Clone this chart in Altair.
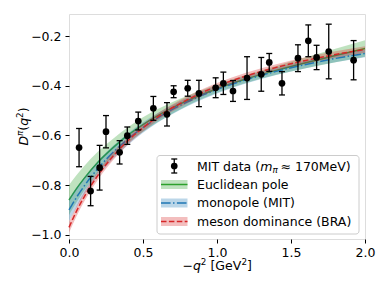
import altair as alt
import pandas as pd

FONT = "DejaVu Sans"

# MIT lattice data points
q2 = [0.068, 0.146, 0.207, 0.250, 0.342, 0.394, 0.468, 0.570, 0.662, 0.707, 0.802, 0.878,
      0.991, 1.043, 1.108, 1.203, 1.299, 1.353, 1.439, 1.547, 1.617, 1.673, 1.755, 1.923]
D = [-0.649, -0.824, -0.730, -0.585, -0.668, -0.601, -0.542, -0.491, -0.515, -0.424, -0.410, -0.431,
     -0.408, -0.390, -0.421, -0.369, -0.354, -0.306, -0.390, -0.289, -0.219, -0.286, -0.262, -0.297]
err = [0.077, 0.059, 0.090, 0.065, 0.047, 0.035, 0.036, 0.048, 0.047, 0.024, 0.032, 0.053,
       0.040, 0.045, 0.042, 0.086, 0.068, 0.036, 0.047, 0.054, 0.064, 0.049, 0.110, 0.079]

# model curves
xg = [0.0, 0.05, 0.1, 0.2, 0.3, 0.4, 0.5, 0.6, 0.8, 1.0, 1.2, 1.4, 1.6, 1.8, 2.0]
green_c = [-0.860, -0.815, -0.775, -0.705, -0.648, -0.598, -0.556, -0.520, -0.460, -0.412, -0.372, -0.338, -0.307, -0.278, -0.250]
green_w = [0.060, 0.055, 0.050, 0.042, 0.036, 0.032, 0.029, 0.026, 0.020, 0.016, 0.016, 0.018, 0.022, 0.027, 0.033]
blue_c = [-0.900, -0.850, -0.806, -0.730, -0.667, -0.614, -0.568, -0.529, -0.465, -0.415, -0.375, -0.342, -0.314, -0.290, -0.270]
blue_w = [0.045, 0.040, 0.035, 0.030, 0.026, 0.023, 0.021, 0.019, 0.017, 0.016, 0.015, 0.015, 0.015, 0.015, 0.015]
red_c = [-0.970, -0.906, -0.850, -0.757, -0.682, -0.620, -0.569, -0.525, -0.456, -0.402, -0.360, -0.326, -0.298, -0.274, -0.254]
red_w = [0.022, 0.020, 0.019, 0.017, 0.016, 0.015, 0.015, 0.014, 0.014, 0.013, 0.013, 0.013, 0.013, 0.013, 0.013]

GREEN, BLUE, RED = "#2ca02c", "#1f77b4", "#d62728"

pts = pd.DataFrame({"x": q2, "y": D, "e": err})
pts["lo"] = pts["y"] - pts["e"]
pts["hi"] = pts["y"] + pts["e"]

xs = alt.Scale(domain=[0, 2], nice=False, zero=False, padding=0)
ys = alt.Scale(domain=[-1.017, -0.111], nice=False, zero=False, padding=0)
common_ax = dict(format=".1f", title=None, grid=False, domain=False, tickSize=4,
                 labelFontSize=12.5, labelFont=FONT, labelColor="black", tickColor="black",
                 labelFlush=False, labelOverlap=False)
xax = alt.Axis(values=[0, 0.5, 1.0, 1.5, 2.0], labelPadding=3, **common_ax)
yax = alt.Axis(values=[-1.0, -0.8, -0.6, -0.4, -0.2], labelPadding=4, **common_ax)
X = lambda f: alt.X(f, type="quantitative", scale=xs, axis=xax)
Y = lambda f: alt.Y(f, type="quantitative", scale=ys, axis=yax)


def model(c, w, color, dash):
    df = pd.DataFrame({"x": xg, "c": c, "w": w})
    df["lo"] = df["c"] - df["w"]
    df["hi"] = df["c"] + df["w"]
    band = alt.Chart(df).mark_area(color=color, opacity=0.3, interpolate="monotone").encode(
        x=X("x"), y=Y("lo"), y2="hi:Q")
    lk = dict(color=color, strokeWidth=1.5, interpolate="monotone")
    if dash:
        lk["strokeDash"] = dash
    line = alt.Chart(df).mark_line(**lk).encode(x=X("x"), y=Y("c"))
    return band + line


one = pd.DataFrame({"k": [0]})
TS = 12.5
SS = 8.75


def txt(s, x, y, size=TS, style=None, align="left", baseline="middle", angle=None):
    kw = dict(text=s, align=align, baseline=baseline, fontSize=size, font=FONT, color="black")
    if style:
        kw["fontStyle"] = style
    if angle is not None:
        kw["angle"] = angle
    return alt.Chart(one).mark_text(**kw).encode(x=alt.value(x), y=alt.value(y))


def rule(x1, x2, y1, y2, color, width=1.5, dash=None):
    kw = dict(color=color, strokeWidth=width)
    if dash:
        kw["strokeDash"] = dash
    return alt.Chart(one).mark_rule(**kw).encode(
        x=alt.value(x1), x2=alt.value(x2), y=alt.value(y1), y2=alt.value(y2))


def patch(x1, x2, y1, y2, color):
    return alt.Chart(one).mark_rect(color=color, opacity=0.3).encode(
        x=alt.value(x1), x2=alt.value(x2), y=alt.value(y1), y2=alt.value(y2))


layers = [model(green_c, green_w, GREEN, None),
          model(blue_c, blue_w, BLUE, [9.6, 2.4, 1.5, 2.4]),
          model(red_c, red_w, RED, [5.5, 2.4])]

bars = alt.Chart(pts).mark_rule(color="black", strokeWidth=1.3).encode(x=X("x"), y=Y("lo"), y2="hi:Q")
capdf = pd.concat([pts.assign(yy=pts["lo"]), pts.assign(yy=pts["hi"])])
caps = alt.Chart(capdf).mark_point(shape="M -1 0 L 1 0", size=36, strokeWidth=1.3, color="black",
                                   opacity=1, filled=False).encode(x=X("x"), y=Y("yy"))
dots = alt.Chart(pts).mark_circle(size=45, color="black", opacity=1).encode(x=X("x"), y=Y("y"))
layers += [bars, caps, dots]

# legend (drawn in plot pixel coordinates)
box = alt.Chart(one).mark_rect(fill="white", fillOpacity=0.8, stroke="#cccccc", strokeWidth=1,
                               cornerRadius=3).encode(
    x=alt.value(88), x2=alt.value(290), y=alt.value(141.5), y2=alt.value(220))
layers.append(box)
rows = [152, 170.5, 189, 207.5]
sx1, sx2, sxc, tx = 92, 118.5, 105.25, 128
layers += [rule(sxc, sxc, rows[0] - 7, rows[0] + 7, "black", 1.3),
           rule(sxc - 3, sxc + 3, rows[0] - 7, rows[0] - 7, "black", 1.3),
           rule(sxc - 3, sxc + 3, rows[0] + 7, rows[0] + 7, "black", 1.3),
           alt.Chart(one).mark_circle(size=45, color="black", opacity=1).encode(
               x=alt.value(sxc), y=alt.value(rows[0]))]
for r, col, dash in [(rows[1], GREEN, None), (rows[2], BLUE, [9.6, 2.4, 1.5, 2.4]), (rows[3], RED, [5.5, 2.4])]:
    layers.append(patch(sx1, sx2, r - 4.5, r + 4.5, col))
    layers.append(rule(sx1, sx2, r, r, col, 1.5, dash))

lb = rows[0] + 4.5  # baseline of first legend row
layers += [txt("MIT data (", tx, lb, baseline="alphabetic"),
           txt("m", tx + 63.3, lb, style="italic", baseline="alphabetic"),
           txt("π", tx + 75.5, lb + 2.5, size=SS, style="italic", baseline="alphabetic"),
           txt("≈ 170MeV)", tx + 83.5, lb, baseline="alphabetic"),
           txt("Euclidean pole", tx, rows[1]),
           txt("monopole (MIT)", tx, rows[2]),
           txt("meson dominance (BRA)", tx, rows[3])]

# x axis title:  −q² [GeV²]
xb = 256
layers += [txt("−", 113.4, xb, baseline="alphabetic"),
           txt("q", 123.9, xb, style="italic", baseline="alphabetic"),
           txt("2", 131.8, xb - 5, size=SS, baseline="alphabetic"),
           txt("[GeV", 141.4, xb, baseline="alphabetic"),
           txt("2", 172.4, xb - 5, size=SS, baseline="alphabetic"),
           txt("]", 178.0, xb, baseline="alphabetic")]

# y axis title:  D^π(q²)  (rotated)
yb = -41.5
layers += [txt("D", yb, 131.6, style="italic", baseline="alphabetic", angle=270),
           txt("π", yb - 5, 122.0, size=SS, style="italic", baseline="alphabetic", angle=270),
           txt("(", yb, 116.7, baseline="alphabetic", angle=270),
           txt("q", yb, 111.8, style="italic", baseline="alphabetic", angle=270),
           txt("2", yb - 5, 103.9, size=SS, baseline="alphabetic", angle=270),
           txt(")", yb, 98.3, baseline="alphabetic", angle=270)]

chart = alt.layer(*layers).properties(
    width=296, height=225, autosize="none",
    padding={"left": 61, "top": 6, "right": 14, "bottom": 44},
).configure_view(stroke="#666666", strokeWidth=1).configure(background="white")

chart.save("out.html", embed_options={"renderer": "svg", "actions": False})
